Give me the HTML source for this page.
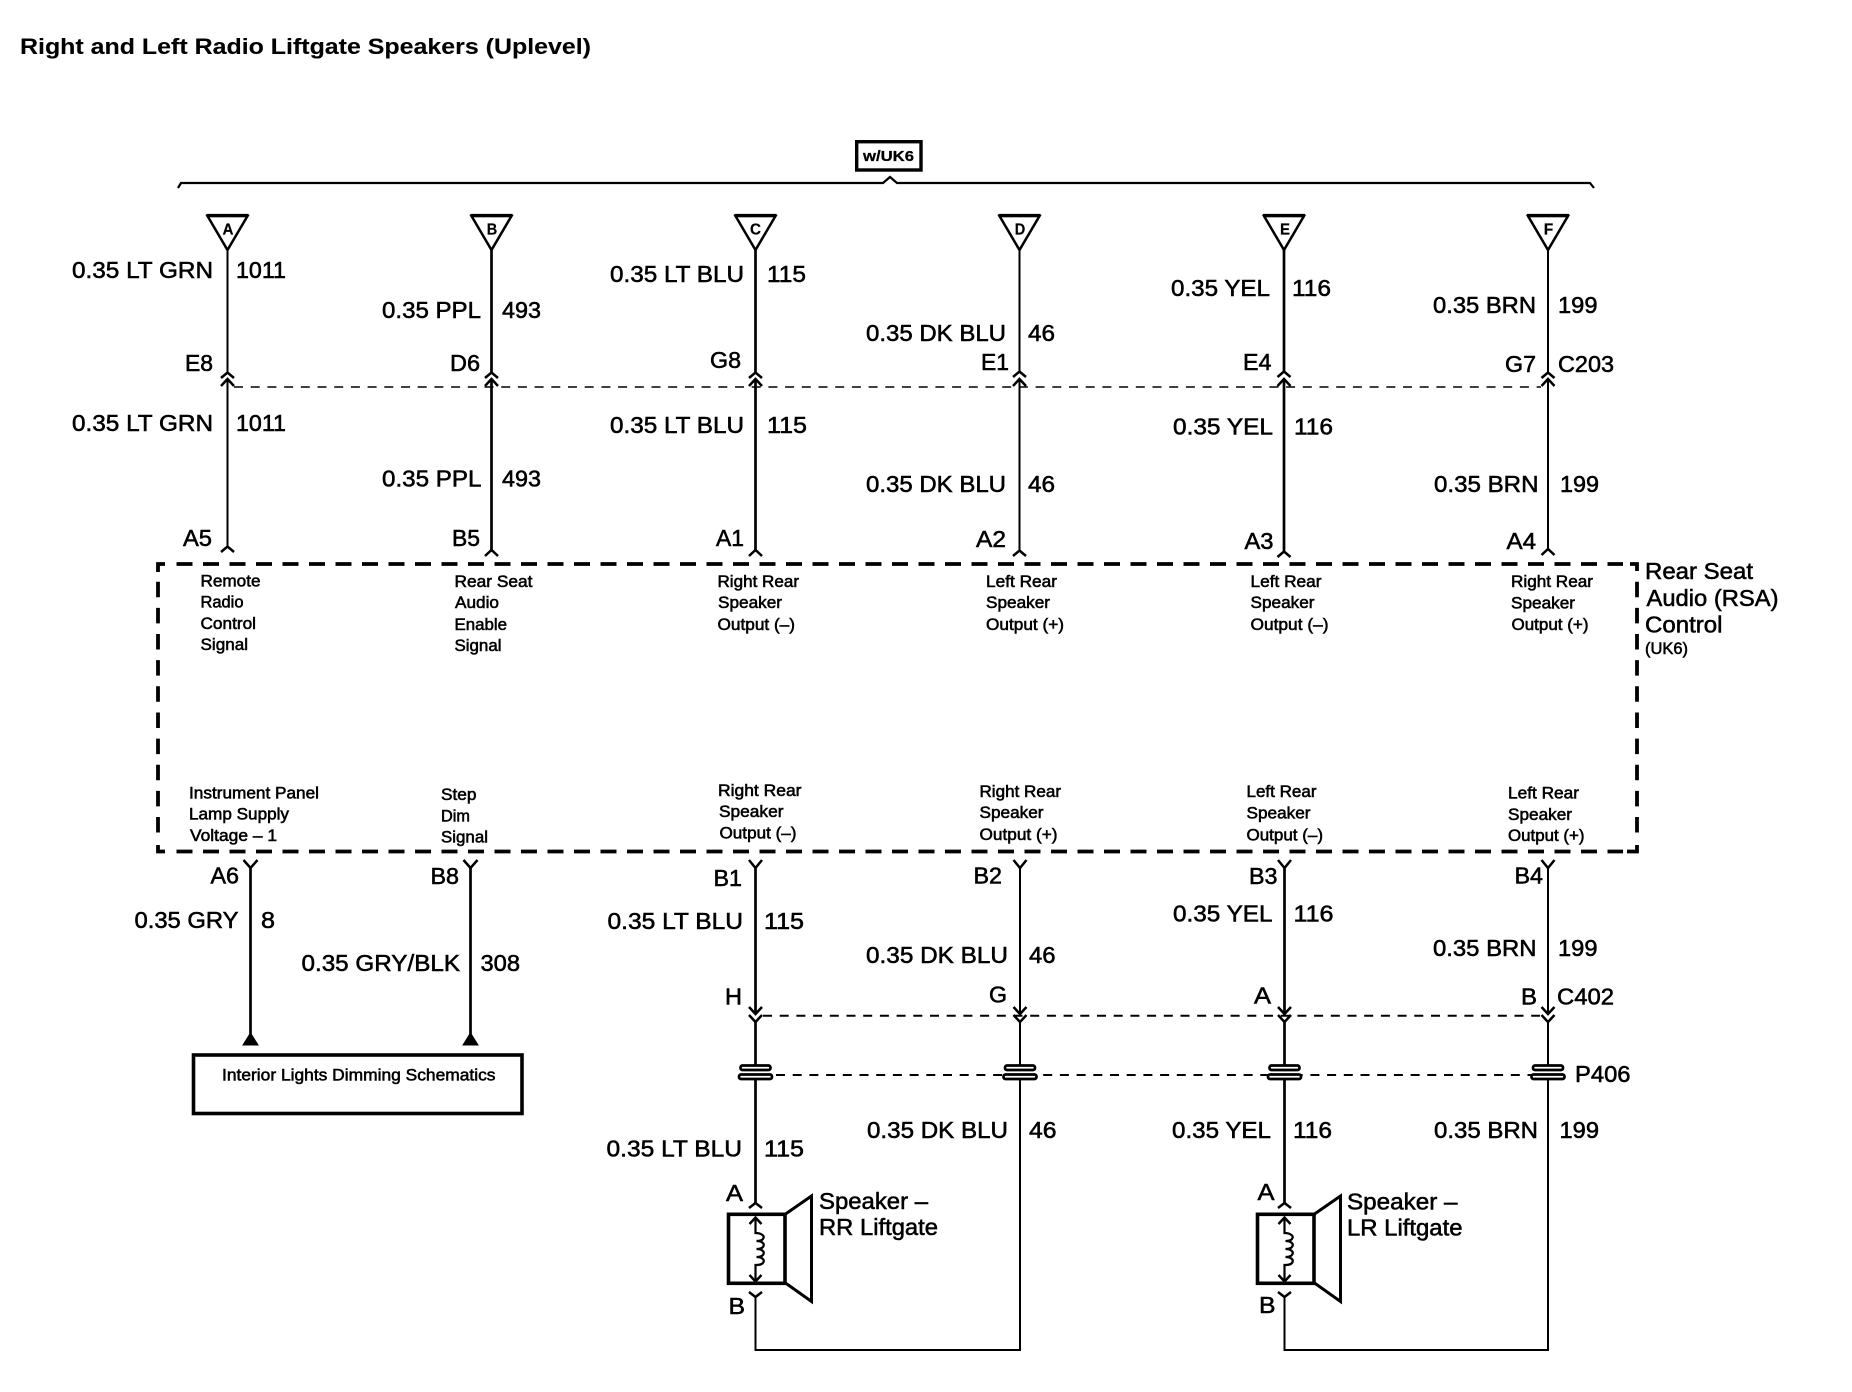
<!DOCTYPE html>
<html><head><meta charset="utf-8"><title>Right and Left Radio Liftgate Speakers (Uplevel)</title>
<style>
html,body{margin:0;padding:0;background:#fff}
svg{display:block}
text{font-family:"Liberation Sans",sans-serif;fill:#000;stroke:#000;stroke-width:.55;white-space:pre}
.l text{font-size:23px}
.m text{font-size:16.5px;stroke-width:.55}
.t text{font-size:16px;font-weight:bold;stroke-width:.2}
.w{stroke:#000;stroke-width:2;fill:none}
.h{stroke:#000;stroke-width:2.7;fill:none}
.c{stroke:#000;stroke-width:2.5;fill:none}
</style></head><body>
<svg xmlns="http://www.w3.org/2000/svg" width="1852" height="1392" viewBox="0 0 1852 1392">
<rect width="1852" height="1392" fill="#fff"/>
<text x="20" y="54" font-size="22" font-weight="bold" textLength="571" lengthAdjust="spacingAndGlyphs" style="stroke-width:.1">Right and Left Radio Liftgate Speakers (Uplevel)</text>

<!-- w/UK6 and brace -->
<rect x="856.700" y="141.700" width="64.300" height="28.300" fill="#fff" stroke="#000" stroke-width="3.400"/>
<text x="863" y="161" font-size="15" font-weight="bold" textLength="51" lengthAdjust="spacingAndGlyphs" style="stroke-width:.3">w/UK6</text>
<path d="M178 188 L181 183 L883 183 L890 177 L897 183 L1590 183 L1594 188" fill="none" stroke="#000" stroke-width="2.200"/>

<!-- triangles -->
<g fill="#fff" stroke="#000" stroke-width="2.500">
<path d="M207.500 216 L247.500 216 L227.500 250 Z M471.500 216 L511.500 216 L491.500 250 Z M735.500 216 L775.500 216 L755.500 250 Z M999.500 216 L1039.500 216 L1019.500 250 Z M1264 216 L1304 216 L1284 250 Z M1528 216 L1568 216 L1548 250 Z"/>
</g>
<path d="M206.500 215.500H248.500M470.500 215.500H512.500M734.500 215.500H776.500M998.500 215.500H1040.500M1263 215.500H1305M1527 215.500H1569" stroke="#000" stroke-width="3.200" fill="none"/>
<g class="t" text-anchor="middle">
<text x="228" y="234.500" textLength="11" lengthAdjust="spacingAndGlyphs">A</text>
<text x="492" y="234.500" textLength="10.500" lengthAdjust="spacingAndGlyphs">B</text>
<text x="755.500" y="234.500" textLength="11" lengthAdjust="spacingAndGlyphs">C</text>
<text x="1020" y="234.500" textLength="10.500" lengthAdjust="spacingAndGlyphs">D</text>
<text x="1285" y="234.500" textLength="10" lengthAdjust="spacingAndGlyphs">E</text>
<text x="1548.500" y="234.500" textLength="9.500" lengthAdjust="spacingAndGlyphs">F</text>
</g>

<!-- wires top -->
<path class="w" d="M227.500 250V373M227.500 379V547"/>
<path class="h" d="M491.500 250V373M491.500 379V551"/>
<path class="h" d="M755.500 250V373M755.500 379V551"/>
<path class="w" d="M1019.500 250V372M1019.500 379V551"/>
<path class="h" d="M1284 250V372M1284 379V552"/>
<path class="w" d="M1548 250V372M1548 379V549"/>
<g class="c">
<path d="M221 378L227.500 372.500L234 378M221 386L227.500 379L234 386"/>
<path d="M485 378L491.500 372.500L498 378M485 386L491.500 379L498 386"/>
<path d="M749 378L755.500 372.500L762 378M749 386L755.500 379L762 386"/>
<path d="M1013 377L1019.500 371.500L1026 377M1013 386L1019.500 379L1026 386"/>
<path d="M1277.500 377L1284 371.500L1290.500 377M1277.500 386L1284 379L1290.500 386"/>
<path d="M1541.500 378L1548 372.500L1554.500 378M1541.500 386L1548 379L1554.500 386"/>
<path d="M221 552L227.500 546.500L234 552"/>
<path d="M485 556L491.500 550L498 556"/>
<path d="M749 556L755.500 550L762 556"/>
<path d="M1013 556L1019.500 550.500L1026 556"/>
<path d="M1277.500 557L1284 551.500L1290.500 557"/>
<path d="M1541.500 555L1548 549L1554.500 555"/>
</g>
<path d="M234 387H1541" stroke="#000" stroke-width="1.400" stroke-dasharray="9 7.700" fill="none"/>

<!-- module -->
<g fill="none" stroke="#000" stroke-width="3.800">
<path d="M176.500 564H1623" stroke-dasharray="16 10.500"/>
<path d="M176.500 851.500H1623" stroke-dasharray="16 10.500"/>
<path d="M158 581.700V835" stroke-dasharray="15.500 10.650"/>
<path d="M1637 581.700V835" stroke-dasharray="15.500 10.650"/>
<path d="M158 572V564H165M1630 564H1637V571M158 845V851.500H165M1627 851.500H1637V845"/>
</g>

<!-- lower wires -->
<path class="h" d="M250.500 868V1034"/>
<path class="h" d="M470.500 868V1034"/>
<path class="h" d="M755.500 868V1014M755.500 1022V1066M755.500 1079V1203"/>
<path class="w" d="M755.500 1297V1350H1020V1079M1020 1066V1022M1020 1014V868"/>
<path class="h" d="M1284.500 868V1014M1284.500 1022V1066M1284.500 1079V1203"/>
<path class="w" d="M1284.500 1297V1350H1548V1079M1548 1066V1022M1548 1014V868"/>
<g class="c">
<path d="M243.500 860L250.500 868L257.500 860"/>
<path d="M463.500 860L470.500 868L477.500 860"/>
<path d="M749 860L755.500 868L762 860"/>
<path d="M1013.500 860L1020 868L1026.500 860"/>
<path d="M1278 860L1284.500 868L1291 860"/>
<path d="M1541.500 860L1548 868L1554.500 860"/>
<path d="M749 1007L755.500 1014L762 1007M749 1015L755.500 1022L762 1015"/>
<path d="M1013.500 1007L1020 1014L1026.500 1007M1013.500 1015L1020 1022L1026.500 1015"/>
<path d="M1278 1007L1284.500 1014L1291 1007M1278 1015L1284.500 1022L1291 1015"/>
<path d="M1541.500 1007L1548 1014L1554.500 1007M1541.500 1015L1548 1022L1554.500 1015"/>
<path d="M749 1208L755.500 1203L762 1208M749 1292L755.500 1297L762 1292"/>
<path d="M1278 1208L1284.500 1203L1291 1208M1278 1292L1284.500 1297L1291 1292"/>
</g>
<path d="M763 1015.700H1540" stroke="#000" stroke-width="2" stroke-dasharray="9 7.700" fill="none"/>
<path d="M776 1075H1535" stroke="#000" stroke-width="2" stroke-dasharray="9 7.700" fill="none"/>

<!-- P406 connectors -->
<defs>
<g id="p">
<rect x="-15" y="-9.500" width="30" height="4.500" rx="2" fill="#fff" stroke="#000" stroke-width="2.700"/>
<rect x="-16.500" y="-0.500" width="33" height="4.500" rx="2" fill="#fff" stroke="#000" stroke-width="2.700"/>
</g>
<g id="s">
<path d="M30 1214L56 1196V1301.500L30 1283" fill="#fff" stroke="#000" stroke-width="3"/>
<rect x="-27" y="1214.300" width="56.500" height="69" fill="#fff" stroke="#000" stroke-width="3.600"/>
<path d="M0 1218V1233C6 1233 9 1236 8 1238C7 1241 3 1241 1 1241C7 1241 9 1244 8 1246C7 1249 3 1249 1 1249C7 1249 9 1252 8 1254C7 1257 3 1257 1 1257C7 1257 9 1260 8 1262C7 1265 3 1265 0 1265V1281" fill="none" stroke="#000" stroke-width="2.200"/>
<path d="M-6 1224L0 1217.500L6 1224M-6 1275L0 1281.500L6 1275" fill="none" stroke="#000" stroke-width="2.400"/>
</g>
</defs>
<use href="#p" x="755.500" y="1075"/>
<use href="#p" x="1020" y="1075"/>
<use href="#p" x="1284.500" y="1075"/>
<use href="#p" x="1548" y="1075"/>

<!-- speakers -->
<use href="#s" x="755.500" y="0"/>
<use href="#s" x="1284.500" y="0"/>

<!-- schematic box -->
<path d="M243 1045L250.500 1033L258 1045ZM463 1045L470.500 1033L478 1045Z" fill="#000" stroke="#000"/>
<rect x="193.500" y="1055" width="328.500" height="58.500" fill="#fff" stroke="#000" stroke-width="3.600"/>

<g class="l">
<text x="72" y="278" textLength="141" lengthAdjust="spacingAndGlyphs">0.35 LT GRN</text>
<text x="236" y="278" textLength="50" lengthAdjust="spacingAndGlyphs">1011</text>
<text x="382" y="318" textLength="99" lengthAdjust="spacingAndGlyphs">0.35 PPL</text>
<text x="502" y="318" textLength="39" lengthAdjust="spacingAndGlyphs">493</text>
<text x="610" y="282" textLength="134" lengthAdjust="spacingAndGlyphs">0.35 LT BLU</text>
<text x="767" y="282" textLength="39" lengthAdjust="spacingAndGlyphs">115</text>
<text x="866" y="341" textLength="140" lengthAdjust="spacingAndGlyphs">0.35 DK BLU</text>
<text x="1028" y="341" textLength="27" lengthAdjust="spacingAndGlyphs">46</text>
<text x="1171" y="296" textLength="99" lengthAdjust="spacingAndGlyphs">0.35 YEL</text>
<text x="1292" y="296" textLength="39" lengthAdjust="spacingAndGlyphs">116</text>
<text x="1433" y="313" textLength="103" lengthAdjust="spacingAndGlyphs">0.35 BRN</text>
<text x="1558" y="313" textLength="39.500" lengthAdjust="spacingAndGlyphs">199</text>

<text x="185" y="371" textLength="28" lengthAdjust="spacingAndGlyphs">E8</text>
<text x="450" y="371" textLength="30" lengthAdjust="spacingAndGlyphs">D6</text>
<text x="710" y="368" textLength="31" lengthAdjust="spacingAndGlyphs">G8</text>
<text x="981" y="370" textLength="28" lengthAdjust="spacingAndGlyphs">E1</text>
<text x="1243" y="370" textLength="28.500" lengthAdjust="spacingAndGlyphs">E4</text>
<text x="1505" y="372" textLength="31" lengthAdjust="spacingAndGlyphs">G7</text>
<text x="1558" y="372" textLength="56" lengthAdjust="spacingAndGlyphs">C203</text>

<text x="72" y="431" textLength="141" lengthAdjust="spacingAndGlyphs">0.35 LT GRN</text>
<text x="236" y="431" textLength="50" lengthAdjust="spacingAndGlyphs">1011</text>
<text x="382" y="486.500" textLength="99.500" lengthAdjust="spacingAndGlyphs">0.35 PPL</text>
<text x="502" y="486.500" textLength="39" lengthAdjust="spacingAndGlyphs">493</text>
<text x="610" y="433" textLength="134" lengthAdjust="spacingAndGlyphs">0.35 LT BLU</text>
<text x="767" y="433" textLength="40" lengthAdjust="spacingAndGlyphs">115</text>
<text x="866" y="492" textLength="140" lengthAdjust="spacingAndGlyphs">0.35 DK BLU</text>
<text x="1028" y="492" textLength="27" lengthAdjust="spacingAndGlyphs">46</text>
<text x="1173" y="434.500" textLength="100" lengthAdjust="spacingAndGlyphs">0.35 YEL</text>
<text x="1294" y="434.500" textLength="39" lengthAdjust="spacingAndGlyphs">116</text>
<text x="1434" y="492" textLength="104.500" lengthAdjust="spacingAndGlyphs">0.35 BRN</text>
<text x="1560" y="492" textLength="39" lengthAdjust="spacingAndGlyphs">199</text>

<text x="183" y="546" textLength="29" lengthAdjust="spacingAndGlyphs">A5</text>
<text x="452" y="546" textLength="28" lengthAdjust="spacingAndGlyphs">B5</text>
<text x="716" y="546" textLength="28" lengthAdjust="spacingAndGlyphs">A1</text>
<text x="976" y="547" textLength="30" lengthAdjust="spacingAndGlyphs">A2</text>
<text x="1244.500" y="549" textLength="29" lengthAdjust="spacingAndGlyphs">A3</text>
<text x="1506.500" y="549" textLength="29.500" lengthAdjust="spacingAndGlyphs">A4</text>

<text x="1645" y="579" textLength="108" lengthAdjust="spacingAndGlyphs">Rear Seat</text>
<text x="1646.500" y="606" textLength="132" lengthAdjust="spacingAndGlyphs">Audio (RSA)</text>
<text x="1645" y="632.500" textLength="77.500" lengthAdjust="spacingAndGlyphs">Control</text>

<text x="210.500" y="883.500" textLength="28.500" lengthAdjust="spacingAndGlyphs">A6</text>
<text x="430.500" y="884" textLength="28.500" lengthAdjust="spacingAndGlyphs">B8</text>
<text x="713.500" y="886" textLength="28.500" lengthAdjust="spacingAndGlyphs">B1</text>
<text x="973.500" y="883.500" textLength="28.500" lengthAdjust="spacingAndGlyphs">B2</text>
<text x="1249" y="884" textLength="28.500" lengthAdjust="spacingAndGlyphs">B3</text>
<text x="1514.500" y="883.500" textLength="28.500" lengthAdjust="spacingAndGlyphs">B4</text>

<text x="134.500" y="928" textLength="104" lengthAdjust="spacingAndGlyphs">0.35 GRY</text>
<text x="261" y="928" textLength="14" lengthAdjust="spacingAndGlyphs">8</text>
<text x="301.500" y="971" textLength="158.500" lengthAdjust="spacingAndGlyphs">0.35 GRY/BLK</text>
<text x="480.500" y="971" textLength="39.500" lengthAdjust="spacingAndGlyphs">308</text>
<text x="607.500" y="929" textLength="135.500" lengthAdjust="spacingAndGlyphs">0.35 LT BLU</text>
<text x="764" y="929" textLength="40" lengthAdjust="spacingAndGlyphs">115</text>
<text x="866" y="963" textLength="142" lengthAdjust="spacingAndGlyphs">0.35 DK BLU</text>
<text x="1029" y="963" textLength="26.500" lengthAdjust="spacingAndGlyphs">46</text>
<text x="1173" y="921.500" textLength="99.500" lengthAdjust="spacingAndGlyphs">0.35 YEL</text>
<text x="1293.500" y="921.500" textLength="40" lengthAdjust="spacingAndGlyphs">116</text>
<text x="1433" y="956" textLength="103.500" lengthAdjust="spacingAndGlyphs">0.35 BRN</text>
<text x="1558" y="956" textLength="39.500" lengthAdjust="spacingAndGlyphs">199</text>

<text x="725" y="1004.500" textLength="17" lengthAdjust="spacingAndGlyphs">H</text>
<text x="989" y="1002.500" textLength="18" lengthAdjust="spacingAndGlyphs">G</text>
<text x="1254" y="1003.500" textLength="17" lengthAdjust="spacingAndGlyphs">A</text>
<text x="1521" y="1004.500" textLength="16" lengthAdjust="spacingAndGlyphs">B</text>
<text x="1557" y="1004.500" textLength="57" lengthAdjust="spacingAndGlyphs">C402</text>
<text x="1575" y="1082" textLength="55.500" lengthAdjust="spacingAndGlyphs">P406</text>

<text x="606.500" y="1156.500" textLength="135.500" lengthAdjust="spacingAndGlyphs">0.35 LT BLU</text>
<text x="764" y="1156.500" textLength="40" lengthAdjust="spacingAndGlyphs">115</text>
<text x="867" y="1138" textLength="141" lengthAdjust="spacingAndGlyphs">0.35 DK BLU</text>
<text x="1029" y="1138" textLength="27.500" lengthAdjust="spacingAndGlyphs">46</text>
<text x="1172" y="1138" textLength="99" lengthAdjust="spacingAndGlyphs">0.35 YEL</text>
<text x="1293" y="1138" textLength="39" lengthAdjust="spacingAndGlyphs">116</text>
<text x="1434" y="1138" textLength="104" lengthAdjust="spacingAndGlyphs">0.35 BRN</text>
<text x="1559.500" y="1138" textLength="39.500" lengthAdjust="spacingAndGlyphs">199</text>

<text x="726" y="1201" textLength="17" lengthAdjust="spacingAndGlyphs">A</text>
<text x="728.500" y="1314" textLength="16.500" lengthAdjust="spacingAndGlyphs">B</text>
<text x="819" y="1209" textLength="109" lengthAdjust="spacingAndGlyphs">Speaker –</text>
<text x="819" y="1235" textLength="119" lengthAdjust="spacingAndGlyphs">RR Liftgate</text>
<text x="1257.500" y="1200" textLength="17" lengthAdjust="spacingAndGlyphs">A</text>
<text x="1259" y="1313" textLength="16.500" lengthAdjust="spacingAndGlyphs">B</text>
<text x="1347" y="1209.500" textLength="110.500" lengthAdjust="spacingAndGlyphs">Speaker –</text>
<text x="1347" y="1235.500" textLength="115.500" lengthAdjust="spacingAndGlyphs">LR Liftgate</text>
</g>

<g class="m">
<text x="1645" y="654" textLength="43" lengthAdjust="spacingAndGlyphs">(UK6)</text>

<text x="200.500" y="586.500" textLength="60" lengthAdjust="spacingAndGlyphs">Remote</text>
<text x="200.500" y="607.500" textLength="43" lengthAdjust="spacingAndGlyphs">Radio</text>
<text x="200.500" y="629" textLength="55.500" lengthAdjust="spacingAndGlyphs">Control</text>
<text x="200.500" y="650" textLength="47.500" lengthAdjust="spacingAndGlyphs">Signal</text>

<text x="454.500" y="587" textLength="78" lengthAdjust="spacingAndGlyphs">Rear Seat</text>
<text x="455" y="608" textLength="44" lengthAdjust="spacingAndGlyphs">Audio</text>
<text x="454.500" y="630" textLength="52.500" lengthAdjust="spacingAndGlyphs">Enable</text>
<text x="454.500" y="651" textLength="47" lengthAdjust="spacingAndGlyphs">Signal</text>

<text x="717.500" y="587" textLength="81.500" lengthAdjust="spacingAndGlyphs">Right Rear</text>
<text x="718" y="608" textLength="64" lengthAdjust="spacingAndGlyphs">Speaker</text>
<text x="717.500" y="630" textLength="77.500" lengthAdjust="spacingAndGlyphs">Output (–)</text>

<text x="986" y="587" textLength="71" lengthAdjust="spacingAndGlyphs">Left Rear</text>
<text x="986" y="608" textLength="64" lengthAdjust="spacingAndGlyphs">Speaker</text>
<text x="986" y="630" textLength="78" lengthAdjust="spacingAndGlyphs">Output (+)</text>

<text x="1250.500" y="587" textLength="71" lengthAdjust="spacingAndGlyphs">Left Rear</text>
<text x="1250.500" y="608" textLength="64" lengthAdjust="spacingAndGlyphs">Speaker</text>
<text x="1250.500" y="630" textLength="78" lengthAdjust="spacingAndGlyphs">Output (–)</text>

<text x="1511" y="587" textLength="82" lengthAdjust="spacingAndGlyphs">Right Rear</text>
<text x="1511" y="608.500" textLength="64" lengthAdjust="spacingAndGlyphs">Speaker</text>
<text x="1511.500" y="630" textLength="77" lengthAdjust="spacingAndGlyphs">Output (+)</text>

<text x="189" y="798.500" textLength="130" lengthAdjust="spacingAndGlyphs">Instrument Panel</text>
<text x="189" y="819.500" textLength="100" lengthAdjust="spacingAndGlyphs">Lamp Supply</text>
<text x="190" y="841" textLength="87" lengthAdjust="spacingAndGlyphs">Voltage – 1</text>

<text x="441" y="800" textLength="35.500" lengthAdjust="spacingAndGlyphs">Step</text>
<text x="441" y="821.500" textLength="29" lengthAdjust="spacingAndGlyphs">Dim</text>
<text x="441" y="842.500" textLength="47" lengthAdjust="spacingAndGlyphs">Signal</text>

<text x="718" y="796" textLength="83.500" lengthAdjust="spacingAndGlyphs">Right Rear</text>
<text x="719" y="817" textLength="64.500" lengthAdjust="spacingAndGlyphs">Speaker</text>
<text x="719.500" y="838.500" textLength="77" lengthAdjust="spacingAndGlyphs">Output (–)</text>

<text x="979.500" y="797" textLength="81.500" lengthAdjust="spacingAndGlyphs">Right Rear</text>
<text x="979.500" y="818" textLength="64" lengthAdjust="spacingAndGlyphs">Speaker</text>
<text x="979.500" y="840" textLength="78" lengthAdjust="spacingAndGlyphs">Output (+)</text>

<text x="1246.500" y="797" textLength="70" lengthAdjust="spacingAndGlyphs">Left Rear</text>
<text x="1246.500" y="818.500" textLength="64" lengthAdjust="spacingAndGlyphs">Speaker</text>
<text x="1246.500" y="840.500" textLength="76.500" lengthAdjust="spacingAndGlyphs">Output (–)</text>

<text x="1508" y="798.500" textLength="71" lengthAdjust="spacingAndGlyphs">Left Rear</text>
<text x="1508" y="820" textLength="64" lengthAdjust="spacingAndGlyphs">Speaker</text>
<text x="1508" y="841" textLength="76.500" lengthAdjust="spacingAndGlyphs">Output (+)</text>

<text x="222" y="1080.500" textLength="273.500" lengthAdjust="spacingAndGlyphs">Interior Lights Dimming Schematics</text>
</g>
</svg>
</body></html>
